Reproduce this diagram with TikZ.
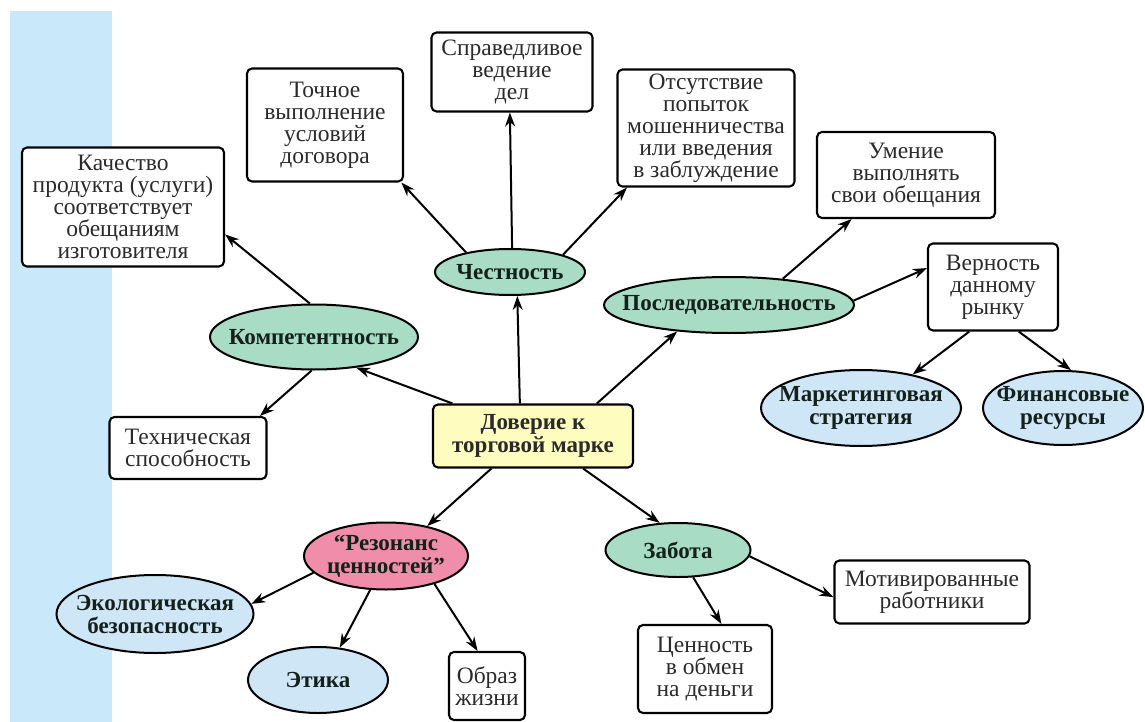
\documentclass[tikz,border=0pt]{standalone}
\usepackage{fontspec}
\setmainfont{Liberation Serif}
\usetikzlibrary{shapes.geometric,arrows.meta}
\definecolor{stripecol}{HTML}{C9E9FB}
\definecolor{greenfill}{HTML}{A8DCC5}
\definecolor{pinkfill}{HTML}{F08DAA}
\definecolor{bluefill}{HTML}{CFE6F6}
\definecolor{yellowfill}{HTML}{FFFCC0}
\definecolor{boxtext}{HTML}{2A2A2A}
\definecolor{elltext}{HTML}{14201A}
\begin{document}
\begin{tikzpicture}[x=1pt,y=-1pt,
  box/.style={draw, line width=2.1pt, rounded corners=5pt, fill=white, align=center,
    inner sep=0pt, text=boxtext, font=\fontsize{23.5}{22}\selectfont},
  ell/.style={ellipse, draw, line width=2pt, align=center, inner xsep=-30pt, inner ysep=-6pt,
    text=elltext, font=\fontsize{23}{23}\selectfont\bfseries},
  green/.style={ell, fill=greenfill},
  blue/.style={ell, fill=bluefill},
  pink/.style={ell, fill=pinkfill},
  arr/.style={-{Stealth[length=14pt,width=10pt]}, line width=2pt}
]
\useasboundingbox (0,0) rectangle (1145,722);
\fill[white] (0,0) rectangle (1145,722);
\fill[stripecol] (10,11) rectangle (112,722);

% central
\node[box, fill=yellowfill, font=\fontsize{23}{23}\selectfont\bfseries, minimum width=200, minimum height=63] (dov) at (533,436) {Доверие к\\торговой марке};

% level 1
\node[green, minimum width=208, minimum height=65] (komp) at (314,337) {Компетентность};
\node[green, minimum width=150, minimum height=46] (chest) at (510,272) {Честность};
\node[green, minimum width=250, minimum height=56] (posl) at (729,305) {Последовательность};
\node[pink, minimum width=164, minimum height=67] (rez) at (386,556) {“Резонанс\\ценностей”};
\node[green, minimum width=145, minimum height=54] (zab) at (678,550) {Забота};

% boxes
\node[box, minimum width=202, minimum height=119] (kach) at (123,207) {Качество\\продукта (услуги)\\соответствует\\обещаниям\\изготовителя};
\node[box, minimum width=157, minimum height=62] (tech) at (188,448) {Техническая\\способность};
\node[box, minimum width=156, minimum height=113] (toch) at (325,125) {Точное\\выполнение\\условий\\договора};
\node[box, minimum width=161, minimum height=79] (sprav) at (512,72) {Справедливое\\ведение\\дел};
\node[box, minimum width=177, minimum height=117] (ots) at (706,128) {Отсутствие\\попыток\\мошенничества\\или введения\\в заблуждение};
\node[box, minimum width=178, minimum height=86] (umen) at (906,175) {Умение\\выполнять\\свои обещания};
\node[box, minimum width=130, minimum height=87] (vern) at (993,287) {Верность\\данному\\рынку};
\node[blue, minimum width=200, minimum height=76] (mark) at (861,408) {Маркетинговая\\стратегия};
\node[blue, minimum width=160, minimum height=74] (fin) at (1063,408) {Финансовые\\ресурсы};
\node[blue, minimum width=197, minimum height=78] (eco) at (155,614) {Экологическая\\безопасность};
\node[blue, minimum width=140, minimum height=66] (etika) at (318,680) {Этика};
\node[box, minimum width=76, minimum height=68] (obraz) at (487,686) {Образ\\жизни};
\node[box, minimum width=134, minimum height=88] (cen) at (705,669) {Ценность\\в обмен\\на деньги};
\node[box, minimum width=195, minimum height=63] (motiv) at (932,592) {Мотивированные\\работники};

% connectors
\draw[arr] (dov.158) -- (komp.324);
\draw[arr] (dov.112) -- (chest.287);
\draw[arr] (dov.27) -- (posl.207);
\draw[arr] (dov.218) -- (rez.36);
\draw[arr] (dov.327) -- (zab.124);
\draw[arr] (komp.97) -- (kach.345);
\draw[arr] (komp.266) -- (tech.24);
\draw[arr] (chest.156) -- (toch.323);
\draw[arr] (chest.85) -- (sprav.267);
\draw[arr] (chest.18) -- (ots.217);
\draw[arr] (posl.26) -- (umen.219);
\draw[arr] (posl.2) -- (vern.164);
\draw[arr] (vern.242) -- (mark.33);
\draw[arr] (vern.300) -- (fin.78);
\draw[arr] (rez.193) -- (eco.6);
\draw[arr] (rez.245) -- (etika.56);
\draw[arr] (rez.330) -- (obraz.105);
\draw[arr] (zab.299) -- (cen.70);
\draw[arr] (zab.355) -- (motiv.183);
\end{tikzpicture}
\end{document}
